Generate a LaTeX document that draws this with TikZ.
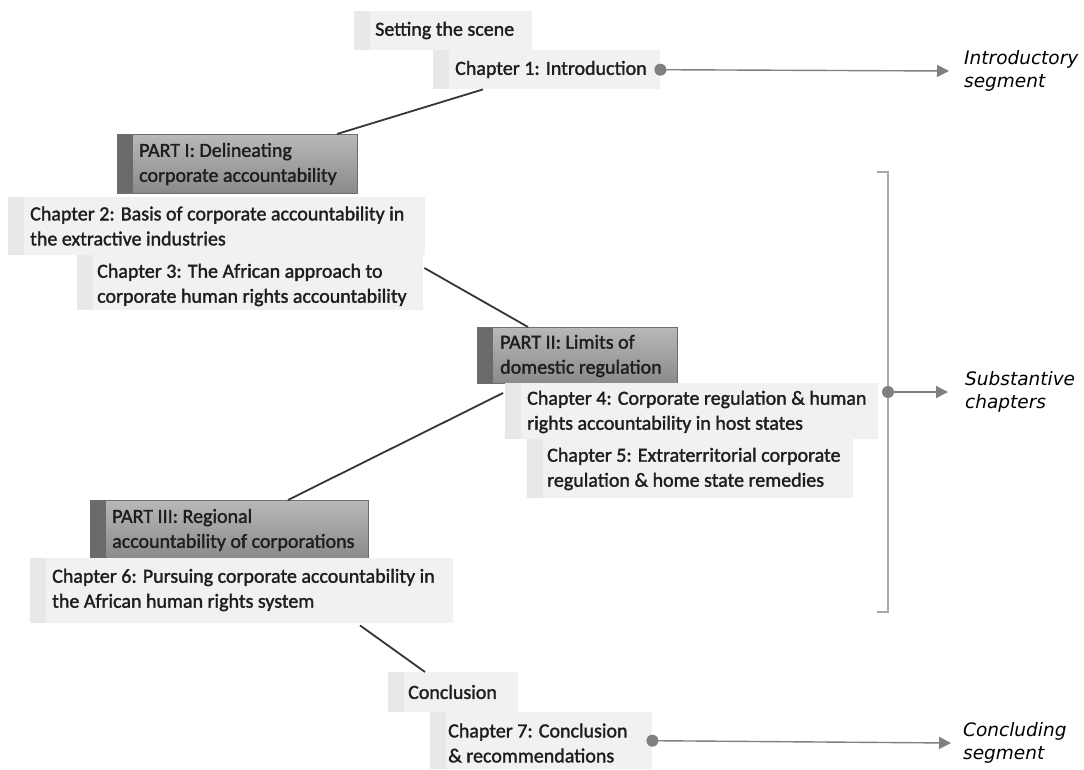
\documentclass[tikz,border=0pt]{standalone}
\usepackage{fontspec}
\setmainfont{Carlito}
\newfontfamily\boxfont{Carlito}[BoldFont=Carlito, BoldFeatures={FakeBold=1.6}]
\newfontfamily\labelfont{DejaVu Sans}
\usetikzlibrary{arrows.meta,calc}

\definecolor{boxfill}{HTML}{F1F1F1}
\definecolor{boxstripe}{HTML}{E8E8E8}
\definecolor{parttop}{HTML}{B8B8B8}
\definecolor{partbottom}{HTML}{8A8A8A}
\definecolor{partborder}{HTML}{6E6E6E}
\definecolor{partstripe}{HTML}{6A6A6A}
\definecolor{linkcol}{HTML}{353535}
\definecolor{arrowcol}{HTML}{808080}
\definecolor{bracketcol}{HTML}{A8A8A8}
\definecolor{textcol}{HTML}{1E1E1E}

\tikzset{
  chapterbox/.style={rectangle, anchor=north west, inner sep=0pt, fill=boxfill,
    path picture={\fill[boxstripe] (path picture bounding box.north west)
      rectangle ([xshift=16pt]path picture bounding box.south west);}},
  partbox/.style={rectangle, anchor=north west, inner sep=0pt,
    top color=parttop, bottom color=partbottom, draw=partborder, line width=0.8pt,
    path picture={\fill[partstripe] (path picture bounding box.north west)
      rectangle ([xshift=16pt]path picture bounding box.south west);}},
  boxtext/.style={anchor=west, inner sep=0pt, align=left, text=textcol,
    font=\boxfont\bfseries\fontsize{20}{25}\selectfont},
  segtext/.style={anchor=west, inner sep=0pt, align=left, text=black,
    font=\labelfont\itshape\fontsize{18.5}{23}\selectfont},
  link/.style={draw=linkcol, line width=1.8pt},
  pointer/.style={draw=arrowcol, line width=1.4pt,
    -{Triangle[length=12pt,width=12pt]}},
  knob/.style={fill=arrowcol},
  bracket/.style={draw=bracketcol, line width=1.8pt},
}

\begin{document}
\begin{tikzpicture}[x=1pt,y=-1pt]
\useasboundingbox (0,0) rectangle (1084,769);

% introductory segment
\node[chapterbox, minimum width=178pt, minimum height=39pt] (scene) at (354,11) {};
\node[boxtext] (scenet) at (375,30.5) {Setting the scene};
\node[chapterbox, minimum width=227pt, minimum height=39pt] (ch1) at (433,50) {};
\node[boxtext] (ch1t) at (455,69.5) {Chapter 1: Introduction};

% part I
\node[partbox, minimum width=240pt, minimum height=59pt] (p1) at (117,134) {};
\node[boxtext] (p1t) at (139,164) {PART I: Delineating\\corporate accountability};
\node[chapterbox, minimum width=417pt, minimum height=58pt] (ch2) at (8,197) {};
\node[boxtext] (ch2t) at (30,226) {Chapter 2: Basis of corporate accountability in\\the extractive industries};
\node[chapterbox, minimum width=346pt, minimum height=55pt] (ch3) at (77,255) {};
\node[boxtext] (ch3t) at (97,285) {Chapter 3: The African approach to\\corporate human rights accountability};

% part II
\node[partbox, minimum width=200pt, minimum height=56pt] (p2) at (477,327) {};
\node[boxtext] (p2t) at (500,356) {PART II: Limits of\\domestic regulation};
\node[chapterbox, minimum width=373pt, minimum height=56pt] (ch4) at (505,383) {};
\node[boxtext] (ch4t) at (527,412) {Chapter 4: Corporate regulation \& human\\rights accountability in host states};
\node[chapterbox, minimum width=326pt, minimum height=59pt] (ch5) at (527,439) {};
\node[boxtext] (ch5t) at (547,469) {Chapter 5: Extraterritorial corporate\\regulation \& home state remedies};

% part III
\node[partbox, minimum width=278pt, minimum height=58pt] (p3) at (90,500) {};
\node[boxtext] (p3t) at (112,530) {PART III: Regional\\accountability of corporations};
\node[chapterbox, minimum width=423pt, minimum height=65pt] (ch6) at (30,558) {};
\node[boxtext] (ch6t) at (52,590) {Chapter 6: Pursuing corporate accountability in\\the African human rights system};

% concluding segment
\node[chapterbox, minimum width=130pt, minimum height=40pt] (concl) at (388,672) {};
\node[boxtext] (conclt) at (408,692) {Conclusion};
\node[chapterbox, minimum width=222pt, minimum height=57pt] (ch7) at (430,712) {};
\node[boxtext] (ch7t) at (448,743) {Chapter 7: Conclusion\\\& recommendations};

% links between the parts
\draw[link] ($(ch1.south west)+(50,0)$) -- ($(p1.north west)+(220,0)$);
\draw[link] ($(ch3.north east)+(1,13)$) -- ($(p2.north west)+(51,0)$);
\draw[link] ($(ch4.north west)+(-2,10)$) -- ($(p3.north west)+(198,0)$);
\draw[link] ($(ch6.south west)+(330,2)$) -- ($(concl.north west)+(37,0)$);

% segment labels
\node[segtext] (intro) at (964,71) {Introductory\\segment};
\node[segtext] (subst) at (965,392) {Substantive\\chapters};
\node[segtext] (concseg) at (963,743) {Concluding\\segment};

% bracket round the substantive chapters
\coordinate (btop) at (888,172);
\coordinate (bbot) at (888,612);
\coordinate (bmid) at (888,392);
\draw[bracket] ($(btop)+(-11,0)$) -- (btop) -- (bbot) -- ($(bbot)+(-11,0)$);

% pointers to the segment labels
\draw[pointer] (ch1.east) -- ($(intro.west)+(-15,0)$);
\fill[knob] (ch1.east) circle (6pt);
\draw[pointer] (bmid) -- ($(subst.west)+(-17,0)$);
\fill[knob] (bmid) circle (6pt);
\draw[pointer] (ch7.east) -- ($(concseg.west)+(-12,0)$);
\fill[knob] (ch7.east) circle (6pt);
\end{tikzpicture}
\end{document}
